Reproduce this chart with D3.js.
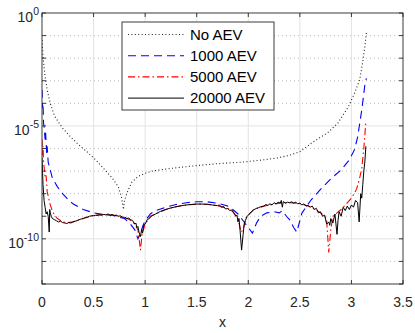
<!DOCTYPE html>
<html>
<head>
<meta charset="utf-8">
<script src="https://cdn.jsdelivr.net/npm/d3@7"></script>
<style>
  html, body { margin: 0; padding: 0; background: #fff; }
  svg { display: block; font-family: "Liberation Sans", Arial, sans-serif; }
</style>
</head>
<body>
<div id="chart"></div>
<script>
// valores (exponentes log10 del error)
const seriesNames = ['No AEV', '1000 AEV', '5000 AEV', '20000 AEV'];

const xNoAev = [0, 0.01, 0.02, 0.03, 0.05, 0.08, 0.12, 0.155, 0.2, 0.28, 0.36, 0.45, 0.53, 0.61, 0.68, 0.74, 0.77, 0.79,
  0.80, 0.83, 0.87, 0.93, 1.0, 1.07, 1.18, 1.29, 1.45, 1.68, 1.95, 2.15, 2.28, 2.4, 2.5, 2.61, 2.7, 2.77, 2.87, 2.97, 3.03, 3.08, 3.11, 3.13, 3.146];
const logNoAev = [-1.2, -1.9, -2.4, -2.8, -3.4, -4.0, -4.55, -4.8, -5.1, -5.5, -5.85, -6.2, -6.55, -6.95, -7.3, -7.7, -8.15, -8.7,
  -8.3, -7.9, -7.5, -7.24, -7.1, -7.0, -6.92, -6.86, -6.78, -6.68, -6.6, -6.5, -6.42, -6.3, -6.14, -5.77, -5.5, -5.3, -4.87, -4.15, -3.55, -2.96, -2.15, -1.5, -0.83];

const x1000 = [0, 0.005, 0.01, 0.015, 0.02, 0.03, 0.035, 0.045, 0.05, 0.06, 0.08, 0.1, 0.15, 0.2, 0.25, 0.3, 0.4, 0.5, 0.6, 0.7, 0.8,
  0.85, 0.9, 0.93, 0.95, 0.98, 1.0, 1.05, 1.1, 1.2, 1.3, 1.4, 1.5, 1.6, 1.7, 1.8, 1.85, 1.9, 1.95, 2.0, 2.04, 2.08, 2.12, 2.18,
  2.25, 2.3, 2.33, 2.37, 2.4, 2.44, 2.47, 2.52, 2.61, 2.71, 2.81, 2.9, 2.98, 3.03, 3.06, 3.1, 3.13, 3.145];
const log1000 = [-3.4, -4.2, -4.0, -4.9, -5.0, -5.6, -5.3, -6.2, -5.9, -6.6, -6.95, -7.3, -7.7, -8.0, -8.25, -8.45, -8.7, -8.85, -8.93, -8.98, -9.1,
  -9.3, -9.6, -10.0, -9.8, -9.4, -9.2, -8.9, -8.75, -8.6, -8.48, -8.4, -8.36, -8.36, -8.42, -8.55, -8.7, -8.9, -9.2, -9.5, -9.75, -9.3, -9.0, -8.85,
  -8.8, -8.85, -8.75, -9.0, -9.15, -9.5, -9.7, -8.86, -8.27, -7.76, -7.3, -6.95, -6.5, -6.05, -5.5, -4.3, -3.2, -2.9];

const x5000 = [0, 0.005, 0.01, 0.015, 0.02, 0.03, 0.04, 0.05, 0.06, 0.08, 0.1, 0.12, 0.15, 0.2, 0.25, 0.3, 0.4, 0.5, 0.6, 0.7, 0.8,
  0.85, 0.9, 0.93, 0.955, 0.97, 1.0, 1.05, 1.1, 1.2, 1.3, 1.4, 1.5, 1.6, 1.7, 1.8, 1.85, 1.9, 1.93, 1.95, 1.98, 2.05, 2.1, 2.2,
  2.3, 2.4, 2.5, 2.6, 2.65, 2.7, 2.74, 2.76, 2.78, 2.8, 2.82, 2.86, 2.9, 2.95, 3.0, 3.05, 3.08, 3.1, 3.12, 3.14];
const log5000 = [-5.6, -6.3, -5.9, -6.6, -6.8, -7.3, -7.2, -7.9, -8.1, -8.5, -8.75, -8.95, -9.1, -9.25, -9.28, -9.25, -9.1, -8.97, -8.93, -8.96, -9.05,
  -9.15, -9.35, -9.6, -10.5, -9.8, -9.35, -9.0, -8.9, -8.7, -8.58, -8.5, -8.46, -8.47, -8.53, -8.65, -8.8, -9.1, -9.7, -9.6, -9.05, -8.72, -8.62, -8.5,
  -8.42, -8.4, -8.43, -8.58, -8.7, -8.85, -9.0, -9.2, -10.6, -9.6, -9.0, -8.85, -8.7, -8.45, -8.2, -7.8, -7.3, -6.9, -6.0, -4.8];

const x20000 = [0, 0.01, 0.02, 0.03, 0.04, 0.05, 0.06, 0.07, 0.075, 0.08, 0.09, 0.1, 0.12, 0.14, 0.16, 0.18, 0.2, 0.22, 0.24, 0.26, 0.28,
  0.3, 0.32, 0.34, 0.36, 0.38, 0.4, 0.42, 0.44, 0.46, 0.48, 0.5, 0.52, 0.54, 0.56, 0.58, 0.6, 0.62, 0.64, 0.66, 0.68, 0.7, 0.72, 0.74,
  0.76, 0.78, 0.8, 0.82, 0.84, 0.86, 0.88, 0.9, 0.91, 0.92, 0.93, 0.94, 0.955, 0.965, 0.975, 0.985, 1.0, 1.02, 1.04, 1.06, 1.08, 1.1,
  1.12, 1.15, 1.2, 1.25, 1.3, 1.35, 1.4, 1.45, 1.5, 1.55, 1.6, 1.65, 1.7, 1.72, 1.74, 1.76, 1.78, 1.8, 1.82, 1.84, 1.86, 1.88, 1.89,
  1.9, 1.91, 1.92, 1.935, 1.95, 1.96, 1.97, 1.99, 2.01, 2.03, 2.05, 2.08, 2.1, 2.12, 2.15, 2.17, 2.19, 2.21, 2.23, 2.25, 2.27, 2.29,
  2.31, 2.32, 2.33, 2.34, 2.36, 2.38, 2.4, 2.42, 2.44, 2.46, 2.48, 2.5, 2.52, 2.54, 2.56, 2.58, 2.6, 2.62, 2.64, 2.66, 2.68, 2.7,
  2.72, 2.74, 2.76, 2.78, 2.79, 2.8, 2.82, 2.84, 2.86, 2.87, 2.88, 2.9, 2.92, 2.94, 2.96, 2.98, 3.0, 3.02, 3.04, 3.06, 3.075, 3.09,
  3.1, 3.11, 3.12, 3.13, 3.14];
const log20000 = [-6.4, -7.6, -8.3, -8.6, -8.9, -8.8, -9.0, -9.7, -8.7, -8.85, -9.0, -9.1, -9.15, -9.2, -9.25, -9.22, -9.28, -9.3, -9.32, -9.28, -9.3,
  -9.25, -9.22, -9.2, -9.15, -9.12, -9.1, -9.05, -9.04, -9.0, -8.98, -8.97, -8.96, -8.95, -8.93, -8.95, -8.92, -8.94, -8.9, -8.95, -8.92, -8.97, -8.95, -9.0,
  -8.98, -9.04, -9.05, -9.1, -9.08, -9.15, -9.2, -9.35, -9.3, -9.5, -9.45, -9.7, -9.9, -9.6, -9.75, -9.4, -9.35, -9.15, -9.1, -9.0, -8.95, -8.9,
  -8.85, -8.78, -8.7, -8.63, -8.58, -8.53, -8.5, -8.48, -8.46, -8.46, -8.47, -8.5, -8.53, -8.5, -8.6, -8.57, -8.68, -8.65, -8.75, -8.72, -8.85, -9.0, -8.95,
  -9.25, -9.1, -9.6, -10.5, -9.8, -9.35, -9.2, -9.0, -8.9, -8.8, -8.72, -8.65, -8.62, -8.58, -8.55, -8.48, -8.52, -8.45, -8.5, -8.4, -8.45, -8.38,
  -8.42, -8.3, -8.6, -8.35, -8.42, -8.38, -8.4, -8.36, -8.42, -8.38, -8.45, -8.42, -8.5, -8.45, -8.55, -8.52, -8.6, -8.55, -8.7, -8.65, -8.85, -8.8,
  -9.0, -8.95, -9.35, -9.25, -9.4, -9.1, -9.3, -8.9, -9.8, -9.2, -8.8, -9.0, -8.6, -8.75, -8.55, -8.7, -8.5, -8.6, -8.3, -8.4, -9.25, -8.0,
  -8.2, -7.6, -7.0, -6.6, -5.9];

const xTicks = [0, 0.5, 1, 1.5, 2, 2.5, 3, 3.5];
const yMajor = [0, -5, -10];
const yDecades = [0, -1, -2, -3, -4, -5, -6, -7, -8, -9, -10, -11, -12];

const W = 415, H = 333;
const m = { left: 42, right: 12, top: 13, bottom: 49 };

const svg = d3.select('#chart').append('svg').attr('width', W).attr('height', H);

const x = d3.scaleLinear().domain([0, 3.5]).range([m.left, W - m.right]);
const y = d3.scaleLog().domain([1e-12, 1]).range([H - m.bottom, m.top]);

const x0 = x.range()[0], x1 = x.range()[1];
const yTop = y.range()[1], yBot = y.range()[0];

// grid
const grid = svg.append('g');
grid.selectAll('line.gx').data(xTicks.slice(1, -1)).enter().append('line')
  .attr('x1', d => x(d)).attr('x2', d => x(d)).attr('y1', yTop).attr('y2', yBot)
  .attr('stroke', '#e3e3e3').attr('stroke-width', 1);
grid.selectAll('line.gy').data(yMajor.slice(1)).enter().append('line')
  .attr('x1', x0).attr('x2', x1).attr('y1', d => y(10 ** d)).attr('y2', d => y(10 ** d))
  .attr('stroke', '#e3e3e3').attr('stroke-width', 1);
grid.selectAll('line.gm').data(yDecades.filter(d => !yMajor.includes(d) && d > -12)).enter().append('line')
  .attr('x1', x0).attr('x2', x1).attr('y1', d => y(10 ** d)).attr('y2', d => y(10 ** d))
  .attr('stroke', '#bdbdbd').attr('stroke-width', 1).attr('stroke-dasharray', '1,3');

// curvas
svg.append('clipPath').attr('id', 'clip').append('rect')
  .attr('x', x0).attr('y', yTop).attr('width', x1 - x0).attr('height', yBot - yTop);

const series = [
  { name: seriesNames[0], xs: xNoAev, ys: logNoAev, color: '#222', dash: '1,2.4', w: 1.1 },
  { name: seriesNames[1], xs: x1000, ys: log1000, color: '#0000ff', dash: '8,5', w: 1.1 },
  { name: seriesNames[2], xs: x5000, ys: log5000, color: '#ff0000', dash: '7,3,1.5,3', w: 1.1 },
  { name: seriesNames[3], xs: x20000, ys: log20000, color: '#000', dash: null, w: 1 }
];

const line = d3.line().x(d => x(d[0])).y(d => y(10 ** d[1]));
const plot = svg.append('g').attr('clip-path', 'url(#clip)');
series.forEach(s => {
  plot.append('path')
    .datum(s.xs.map((v, i) => [v, s.ys[i]]))
    .attr('d', line)
    .attr('fill', 'none')
    .attr('stroke', s.color)
    .attr('stroke-width', s.w)
    .attr('stroke-dasharray', s.dash);
});

// ejes y caja
const axes = svg.append('g').attr('stroke', '#262626').attr('stroke-width', 0.9);
axes.append('rect').attr('x', x0).attr('y', yTop).attr('width', x1 - x0).attr('height', yBot - yTop).attr('fill', 'none');
xTicks.forEach(t => {
  axes.append('line').attr('x1', x(t)).attr('x2', x(t)).attr('y1', yBot).attr('y2', yBot - 4);
  axes.append('line').attr('x1', x(t)).attr('x2', x(t)).attr('y1', yTop).attr('y2', yTop + 4);
});
yDecades.forEach(d => {
  axes.append('line').attr('x1', x0).attr('x2', x0 + 4).attr('y1', y(10 ** d)).attr('y2', y(10 ** d));
  axes.append('line').attr('x1', x1).attr('x2', x1 - 4).attr('y1', y(10 ** d)).attr('y2', y(10 ** d));
});

svg.append('g').selectAll('text').data(xTicks).enter().append('text')
  .attr('x', d => x(d)).attr('y', yBot + 23)
  .attr('text-anchor', 'middle').attr('font-size', 14).attr('fill', '#262626')
  .text(d => d);

const yl = svg.append('g').selectAll('text').data(yMajor).enter().append('text')
  .attr('x', x0 - 3).attr('y', d => y(10 ** d) + 9)
  .attr('text-anchor', 'end').attr('font-size', 14).attr('fill', '#262626');
yl.append('tspan').text('10');
yl.append('tspan').attr('dy', -7).attr('font-size', 10.5).text(d => d);

svg.append('text').attr('x', (x0 + x1) / 2).attr('y', H - 6)
  .attr('text-anchor', 'middle').attr('font-size', 14).attr('fill', '#262626').text('x');

// leyenda
const lg = svg.append('g');
lg.append('rect').attr('x', 122).attr('y', 22).attr('width', 152).attr('height', 88)
  .attr('fill', '#fff').attr('stroke', '#262626').attr('stroke-width', 0.9);
series.forEach((s, i) => {
  const ly = 34.5 + i * 21.2;
  lg.append('line').attr('x1', 128).attr('x2', 184).attr('y1', ly).attr('y2', ly)
    .attr('stroke', s.color).attr('stroke-width', s.w).attr('stroke-dasharray', s.dash);
  lg.append('text').attr('x', 190).attr('y', ly + 5.3).attr('font-size', 15).attr('fill', '#000').text(s.name);
});
</script>
</body>
</html>
